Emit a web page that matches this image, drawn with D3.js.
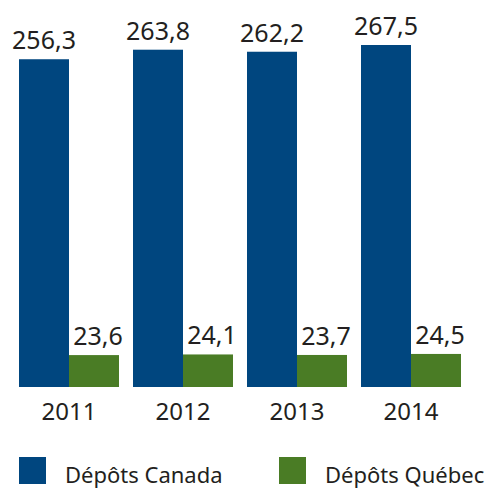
<!DOCTYPE html>
<html>
<head>
<meta charset="utf-8">
<script src="https://cdn.jsdelivr.net/npm/d3@7"></script>
<style>
  html, body { margin: 0; padding: 0; background: #fff; }
  svg text { font-family: "Noto Sans", "Open Sans", sans-serif; fill: #231f20; }
</style>
</head>
<body>
<div id="chart"></div>
<script>
// ---- Data ----
const years = ["2011", "2012", "2013", "2014"];
const series = ["Dépôts Canada", "Dépôts Québec"];
const canada = [256.3, 263.8, 262.2, 267.5];
const quebec = [23.6, 24.1, 23.7, 24.5];

const W = 489, H = 488;
const COLORS = ["#00467f", "#4a7c25"];
const fmt = v => v.toFixed(1).replace(".", ",");

const svg = d3.select("#chart").append("svg")
  .attr("width", W).attr("height", H);

// ---- Scales ----
const x0 = d3.scaleBand()
  .domain(years)
  .range([19, 461])
  .paddingInner(14 / 114)
  .paddingOuter(0);

const x1 = d3.scaleBand()
  .domain(series)
  .range([0, x0.bandwidth()]);

const y = d3.scaleLinear()
  .domain([-1.5, 267.5])
  .range([387, 45]);

const color = d3.scaleOrdinal().domain(series).range(COLORS);

const rows = years.map((yr, i) => ({
  year: yr,
  values: [
    { key: series[0], value: canada[i] },
    { key: series[1], value: quebec[i] }
  ]
}));

// ---- Bars ----
const groups = svg.selectAll("g.year")
  .data(rows)
  .join("g")
  .attr("class", "year")
  .attr("transform", d => `translate(${x0(d.year)},0)`);

groups.selectAll("rect")
  .data(d => d.values)
  .join("rect")
  .attr("x", d => x1(d.key))
  .attr("y", d => y(d.value))
  .attr("width", x1.bandwidth())
  .attr("height", d => y(-1.5) - y(d.value))
  .attr("fill", d => color(d.key));

groups.selectAll("text.val")
  .data(d => d.values)
  .join("text")
  .attr("class", "val")
  .attr("x", (d, i) => x1(d.key) + x1.bandwidth() / 2 + (i ? 4 : 0))
  .attr("y", d => y(d.value) - 10)
  .attr("text-anchor", "middle")
  .style("font-size", "25px")
  .text(d => fmt(d.value));

// ---- X axis labels ----
const xAxis = svg.append("g")
  .attr("transform", "translate(0,387)")
  .call(d3.axisBottom(x0).tickSize(0));
xAxis.select(".domain").remove();
xAxis.selectAll("text")
  .style("font-size", "24px")
  .attr("fill", "#231f20")
  .attr("dy", "0.71em")
  .attr("y", 16);

// ---- Legend ----
const legendX = [19, 279];
const legend = svg.selectAll("g.legend")
  .data(series)
  .join("g")
  .attr("class", "legend")
  .attr("transform", (d, i) => `translate(${legendX[i]},457)`);

legend.append("rect")
  .attr("width", 27).attr("height", 27)
  .attr("fill", d => color(d));

legend.append("text")
  .attr("x", 46).attr("y", 26)
  .style("font-size", "22px")
  .text(d => d);
</script>
</body>
</html>
